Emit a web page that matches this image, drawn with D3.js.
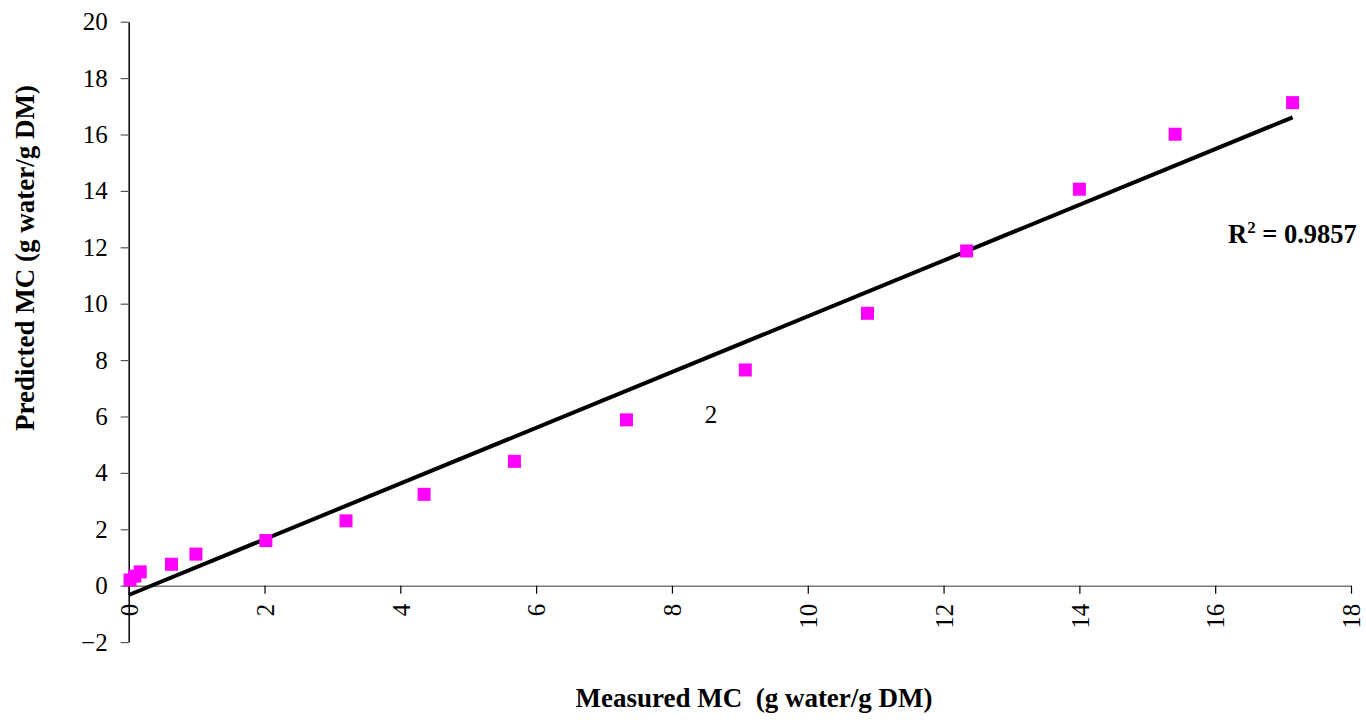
<!DOCTYPE html>
<html>
<head>
<meta charset="utf-8">
<script src="https://cdn.jsdelivr.net/npm/d3@7"></script>
<style>
  body { margin: 0; background: #fff; }
  svg text { font-family: "Liberation Serif", "Tinos", "Times New Roman", serif; }
</style>
</head>
<body>
<div id="vis"></div>
<script>
var width = 1366,
    height = 720;

// measured vs predicted MC
var measured  = [0.02, 0.09, 0.17, 0.63, 0.99, 2.02, 3.20, 4.35, 5.68, 7.33, 9.08, 10.88, 12.34, 14.00, 15.41, 17.14];
var predicted = [0.20, 0.34, 0.49, 0.76, 1.12, 1.60, 2.30, 3.24, 4.41, 5.88, 7.65, 9.66, 11.87, 14.06, 16.01, 17.13];

// trend line end points
var trendX = [0, 17.14];
var trendY = [-0.33, 16.61];

var xTicks = [0, 2, 4, 6, 8, 10, 12, 14, 16, 18];
var yTicks = [-2, 0, 2, 4, 6, 8, 10, 12, 14, 16, 18, 20];

var xTitle = "Measured MC  (g water/g DM)";
var yTitle = "Predicted MC (g water/g DM)";
var r2Label = "0.9857";
var seriesLabel = "2";

var serif = "'Liberation Serif', Tinos, 'Times New Roman', serif";

var svg = d3.select("#vis").append("svg")
    .attr("width", width)
    .attr("height", height)
    .attr("font-family", serif);

var x = d3.scaleLinear().domain([0, 18]).range([128.7, 1351]);
var y = d3.scaleLinear().domain([-2, 20]).range([642.1, 21.7]);

//----------AXES---------//
var xAxis = svg.append("g")
    .attr("transform", "translate(0," + y(0) + ")")
    .call(d3.axisBottom(x).tickValues(xTicks).tickSize(8).tickSizeOuter(0).tickFormat(d3.format("d")))
    .attr("font-family", serif);
xAxis.select(".domain").attr("stroke", "#777").attr("stroke-width", 1.5);
xAxis.selectAll(".tick line").attr("stroke", "#000").attr("stroke-width", 1.2);
xAxis.selectAll(".tick text")
    .attr("font-size", 25)
    .attr("fill", "#000")
    .attr("transform", "rotate(-90)")
    .attr("x", -18)
    .attr("y", 0)
    .attr("dy", "0.35em")
    .style("text-anchor", "end");

var yAxis = svg.append("g")
    .attr("transform", "translate(" + x(0) + ",0)")
    .call(d3.axisLeft(y).tickValues(yTicks).tickSize(8).tickSizeOuter(0).tickFormat(d3.format("d")))
    .attr("font-family", serif);
yAxis.select(".domain").attr("stroke", "#000").attr("stroke-width", 1.5);
yAxis.selectAll(".tick line").attr("stroke", "#555").attr("stroke-width", 1.2);
yAxis.selectAll(".tick text")
    .attr("font-size", 25)
    .attr("fill", "#000")
    .attr("x", -21);

//----------TREND LINE---------//
svg.append("line")
    .attr("x1", x(trendX[0])).attr("y1", y(trendY[0]))
    .attr("x2", x(trendX[1])).attr("y2", y(trendY[1]))
    .attr("stroke", "#000")
    .attr("stroke-width", 4);

//----------POINTS---------//
var s = 13;
svg.selectAll(".pt")
    .data(measured)
    .enter()
    .append("rect")
    .attr("class", "pt")
    .attr("x", function(d) { return x(d) - s / 2; })
    .attr("y", function(d, i) { return y(predicted[i]) - s / 2; })
    .attr("width", s)
    .attr("height", s)
    .attr("fill", "#ff00ff");

//----------LABELS---------//
var r2 = svg.append("text")
    .attr("x", 1228)
    .attr("y", 243)
    .attr("font-size", 26.5)
    .attr("font-weight", "bold");
r2.append("tspan").text("R");
r2.append("tspan").attr("font-size", 17).attr("dy", -10).text("2");
r2.append("tspan").attr("dy", 10).text(" = " + r2Label);

svg.append("text")
    .attr("x", 711)
    .attr("y", 423)
    .attr("font-size", 25)
    .style("text-anchor", "middle")
    .text(seriesLabel);

svg.append("text")
    .attr("x", 754)
    .attr("y", 707)
    .attr("font-size", 27)
    .attr("font-weight", "bold")
    .style("text-anchor", "middle")
    .style("white-space", "pre")
    .text(xTitle);

svg.append("text")
    .attr("transform", "translate(34,258) rotate(-90)")
    .attr("font-size", 27)
    .attr("font-weight", "bold")
    .style("text-anchor", "middle")
    .text(yTitle);
</script>
</body>
</html>
